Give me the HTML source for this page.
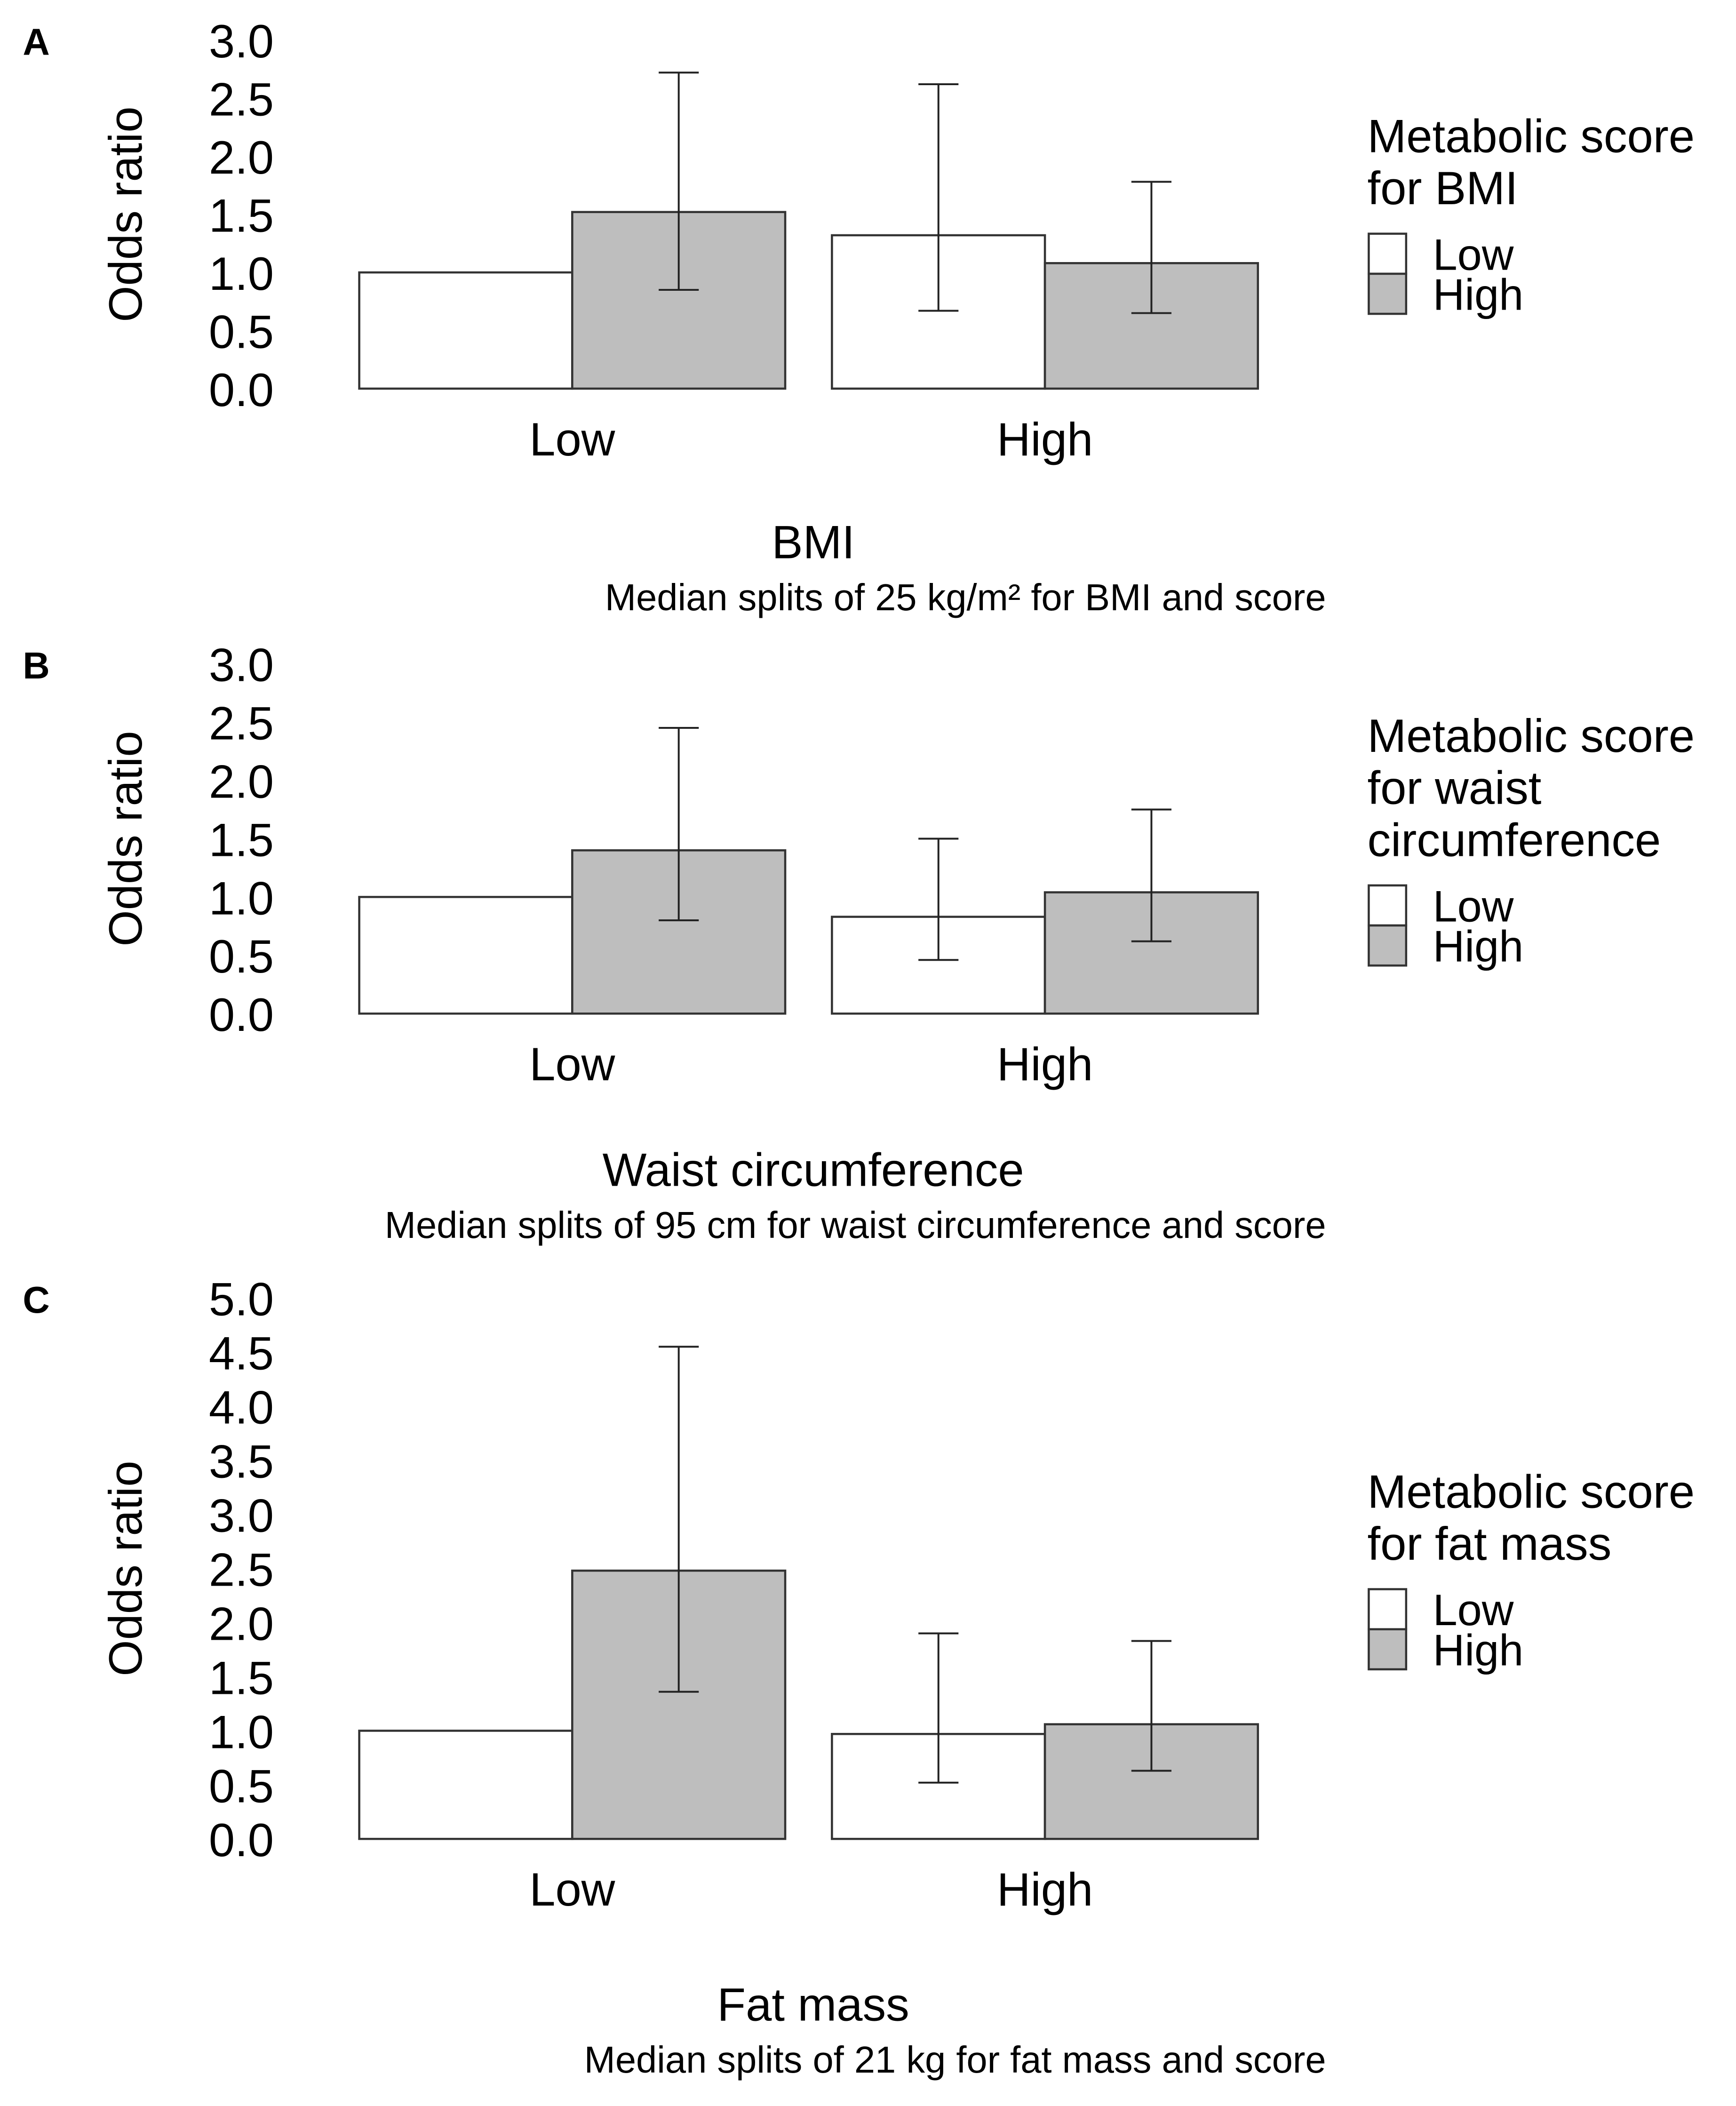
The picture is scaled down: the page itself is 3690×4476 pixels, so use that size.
<!DOCTYPE html>
<html><head><meta charset="utf-8"><style>
html,body{margin:0;padding:0;background:#fff;}
svg{display:block;font-family:"Liberation Sans",Arial,sans-serif;}
</style></head><body>
<svg id="fig" xmlns="http://www.w3.org/2000/svg" width="3690" height="4476" viewBox="0 0 1300 1577">
<rect x="0" y="0" width="1300" height="1577" fill="#fff"/>
</svg>
<script>
const groups = ["Low","High"];
const seriesNames = ["Low","High"];
// Panel A
const aValues = [[1.0,1.52],[1.32,1.08]];
const aLower = [[null,0.85],[0.67,0.65]];
const aUpper = [[null,2.72],[2.62,1.78]];
const aTicks = ["0.0","0.5","1.0","1.5","2.0","2.5","3.0"];
// Panel B
const bValues = [[1.0,1.4],[0.83,1.04]];
const bLower = [[null,0.8],[0.46,0.62]];
const bUpper = [[null,2.45],[1.5,1.75]];
const bTicks = ["0.0","0.5","1.0","1.5","2.0","2.5","3.0"];
// Panel C
const cValues = [[1.0,2.48],[0.97,1.06]];
const cLower = [[null,1.36],[0.52,0.63]];
const cUpper = [[null,4.55],[1.9,1.83]];
const cTicks = ["0.0","0.5","1.0","1.5","2.0","2.5","3.0","3.5","4.0","4.5","5.0"];

const NS="http://www.w3.org/2000/svg";
const svg=document.getElementById('fig');
function mk(tag,attrs,parent){const e=document.createElementNS(NS,tag);for(const k in attrs)e.setAttribute(k,attrs[k]);(parent||svg).appendChild(e);return e;}
function txt(s,attrs,parent){const e=mk('text',attrs,parent);e.textContent=s;return e;}

function panel(cfg){
  const g=mk('g',{});
  
  
  const maxV=parseFloat(cfg.ticks[cfg.ticks.length-1]);
  const y=v=>cfg.base-(v/maxV)*(cfg.base-cfg.top);
  const pl=txt(cfg.letter,{x:17,y:cfg.top+11,'font-size':28,'font-weight':'bold'},g);
  
  
  cfg.ticks.forEach(t=>{
    const e=txt(t,{x:205,y:y(parseFloat(t))+13,'font-size':35,'text-anchor':'end'},g);
    
    
  });
  const yc=(cfg.top+cfg.base)/2;
  const yt=txt('Odds ratio',{x:0,y:0,'font-size':35,'text-anchor':'middle',transform:`translate(106,${yc}) rotate(-90)`},g);
  
  
  const gx=[269,623], bw=159.5;
  groups.forEach((gn,gi)=>{
    seriesNames.forEach((sn,si)=>{
      const v=cfg.values[gi][si];
      const x0=gx[gi]+si*bw;
      const r=mk('rect',{x:x0,y:y(v),width:bw,height:cfg.base-y(v),fill:si?'#bebebe':'#fff',stroke:'#333','stroke-width':1.6},g);
      
      
      const lo=cfg.lower[gi][si], hi=cfg.upper[gi][si];
      if(lo!==null){
        const cx=x0+bw/2;
        const eb=mk('path',{d:`M${cx},${y(lo)}V${y(hi)}M${cx-15},${y(lo)}H${cx+15}M${cx-15},${y(hi)}H${cx+15}`,stroke:'#222','stroke-width':1.4,fill:'none'},g);
        
        
      }
    });
    const xl=txt(gn,{x:gx[gi]+bw,y:cfg.base+50,'font-size':35,'text-anchor':'middle'},g);
    
    
  });
  const xt=txt(cfg.title,{x:609,y:cfg.titleY,'font-size':35,'text-anchor':'middle'},g);
  
  
  const st=txt(cfg.sub,{x:993,y:cfg.titleY+39,'font-size':28,'text-anchor':'end'},g);
  
  
  cfg.legend.forEach((l,i)=>{
    const e=txt(l,{x:1024,y:cfg.legY+13+i*39,'font-size':35},g);
    
    
  });
  const ky=cfg.legY+cfg.legend.length*39-4;
  seriesNames.forEach((sn,si)=>{
    const r=mk('rect',{x:1025,y:ky+si*30,width:28,height:30,fill:si?'#bebebe':'#fff',stroke:'#333','stroke-width':1.6},g);
    
    
    const t=txt(sn,{x:1073,y:ky+si*30+27,'font-size':33},g);
    
    
  });
}
panel({id:'a',letter:'A',top:30,base:291,ticks:aTicks,values:aValues,lower:aLower,upper:aUpper,title:'BMI',titleY:418,sub:'Median splits of 25 kg/m² for BMI and score',legend:['Metabolic score','for BMI'],legY:101});
panel({id:'b',letter:'B',top:497,base:759,ticks:bTicks,values:bValues,lower:bLower,upper:bUpper,title:'Waist circumference',titleY:888,sub:'Median splits of 95 cm for waist circumference and score',legend:['Metabolic score','for waist','circumference'],legY:550});
panel({id:'c',letter:'C',top:972,base:1377,ticks:cTicks,values:cValues,lower:cLower,upper:cUpper,title:'Fat mass',titleY:1513,sub:'Median splits of 21 kg for fat mass and score',legend:['Metabolic score','for fat mass'],legY:1116});
</script>
</body></html>
